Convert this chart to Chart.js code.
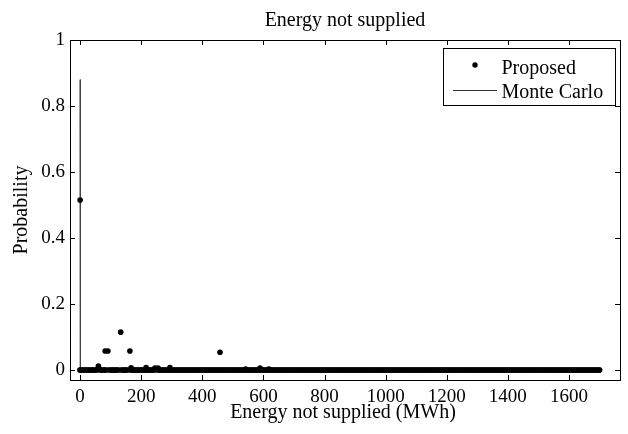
<!DOCTYPE html>
<html>
<head>
<meta charset="utf-8">
<script src="https://cdn.jsdelivr.net/npm/chart.js@4/dist/chart.umd.min.js"></script>
<style>
html,body{margin:0;padding:0;background:#fff;}
#wrap{width:628px;height:434px;}
</style>
</head>
<body>
<div id="wrap"><canvas id="c" width="628" height="434"></canvas></div>
<script>
// ---- data ----
const titleText = "Energy not supplied";
const xTitle = "Energy not supplied (MWh)";
const yTitle = "Probability";
const xTicks = [0, 200, 400, 600, 800, 1000, 1200, 1400, 1600];
const yTicks = [0, 0.2, 0.4, 0.6, 0.8, 1];

// Proposed method: states with non-negligible probability
const proposedX = [0, 60, 82, 91, 133, 163, 167, 216, 245, 255, 294, 458, 542, 589, 618];
const proposedY = [0.515, 0.012, 0.058, 0.058, 0.115, 0.058, 0.007, 0.008, 0.006, 0.006, 0.008, 0.054, 0.003, 0.006, 0.003];

// Proposed method: states with ~zero probability (dense band along y = 0)
const zeroStatesX = [0,10,20,30,40,50,70,80,100,110,120,140,150,170,180,190,200,210,220,230,240,260,270,280,290,300,
310,320,330,340,350,360,370,380,390,400,410,420,430,440,450,460,470,480,490,500,510,520,530,540,550,560,570,580,590,600,
610,620,630,640,650,660,670,680,690,700,710,720,730,740,750,760,770,780,790,800,810,820,830,840,850,860,870,880,890,900,
910,920,930,940,950,960,970,980,990,1000,1010,1020,1030,1040,1050,1060,1070,1080,1090,1100,1110,1120,1130,1140,1150,1160,
1170,1180,1190,1200,1210,1220,1230,1240,1250,1260,1270,1280,1290,1300,1310,1320,1330,1340,1350,1360,1370,1380,1390,1400,
1410,1420,1430,1440,1450,1460,1470,1480,1490,1500,1510,1520,1530,1540,1550,1560,1570,1580,1590,1600,1610,1620,1630,1640,
1650,1660,1670,1680,1690,1700];
const zeroStatesY = zeroStatesX.map(() => 0);

// Monte Carlo result
const monteCarloX = [0, 1, 1700];
const monteCarloY = [0.88, 0, 0];

const FONT = '"Liberation Serif", "Times New Roman", serif';

const proposedPts = proposedX.map((x, i) => ({x, y: proposedY[i]}));
const zeroPts = zeroStatesX.map((x, i) => ({x, y: zeroStatesY[i]}));
const mcPts = monteCarloX.map((x, i) => ({x, y: monteCarloY[i]}));

const framePlugin = {
  id: 'frame',
  afterDraw(chart) {
    const ctx = chart.ctx;
    const a = chart.chartArea;
    const xs = chart.scales.x, ys = chart.scales.y;
    ctx.save();
    ctx.strokeStyle = '#000';
    ctx.lineWidth = 1;
    // inward ticks on all sides
    const tl = 5;
    ctx.beginPath();
    xTicks.forEach(v => {
      const px = Math.round(xs.getPixelForValue(v)) + 0.5;
      ctx.moveTo(px, a.bottom); ctx.lineTo(px, a.bottom - tl);
      ctx.moveTo(px, a.top); ctx.lineTo(px, a.top + tl);
    });
    yTicks.forEach(v => {
      const py = Math.round(ys.getPixelForValue(v)) + 0.5;
      ctx.moveTo(a.left, py); ctx.lineTo(a.left + tl, py);
      ctx.moveTo(a.right, py); ctx.lineTo(a.right - tl, py);
    });
    ctx.stroke();
    // box
    ctx.strokeRect(Math.round(a.left) + 0.5, Math.round(a.top) + 0.5,
      Math.round(a.right - a.left), Math.round(a.bottom - a.top));

    // titles
    ctx.fillStyle = '#000';
    ctx.font = '20px ' + FONT;
    ctx.textAlign = 'center';
    ctx.textBaseline = 'alphabetic';
    const cx = (a.left + a.right) / 2;
    ctx.fillText(titleText, cx, 26);
    ctx.fillText(xTitle, cx - 2, 418);
    ctx.save();
    ctx.translate(27, (a.top + a.bottom) / 2);
    ctx.rotate(-Math.PI / 2);
    ctx.fillText(yTitle, 0, 0);
    ctx.restore();

    // legend
    const lx = 443.5, ly = 48.5, lw = 172, lh = 57;
    ctx.fillStyle = '#fff';
    ctx.fillRect(lx, ly, lw, lh);
    ctx.strokeStyle = '#000';
    ctx.strokeRect(lx, ly, lw, lh);
    ctx.fillStyle = '#000';
    ctx.beginPath();
    ctx.arc(475, 65, 2.7, 0, Math.PI * 2);
    ctx.fill();
    ctx.strokeStyle = '#333';
    ctx.beginPath();
    ctx.moveTo(453, 90.5); ctx.lineTo(497, 90.5);
    ctx.stroke();
    ctx.textAlign = 'left';
    ctx.fillText(chart.data.datasets[0].label, 501.5, 73.5);
    ctx.fillText(chart.data.datasets[2].label, 501.5, 98);
    ctx.restore();
  }
};

new Chart(document.getElementById('c'), {
  type: 'scatter',
  data: {
    datasets: [
      {
        label: 'Proposed',
        data: proposedPts,
        showLine: false,
        pointRadius: 2.8,
        pointHoverRadius: 2.8,
        pointBackgroundColor: '#000',
        pointBorderWidth: 0,
        borderColor: '#000'
      },
      {
        label: 'Proposed (zero-probability states)',
        data: zeroPts,
        showLine: true,
        borderWidth: 5.5,
        borderCapStyle: 'round',
        borderColor: '#000',
        pointRadius: 2.8,
        pointHoverRadius: 2.8,
        pointBackgroundColor: '#000',
        pointBorderWidth: 0,
        tension: 0
      },
      {
        label: 'Monte Carlo',
        data: mcPts,
        showLine: true,
        pointRadius: 0,
        borderColor: '#444',
        borderWidth: 1,
        fill: false,
        tension: 0
      }
    ]
  },
  options: {
    responsive: false,
    animation: false,
    events: [],
    layout: {padding: {top: 40, right: 8, left: 0, bottom: 0}},
    plugins: {legend: {display: false}, title: {display: false}, tooltip: {enabled: false}},
    scales: {
      x: {
        type: 'linear',
        min: -33, max: 1767,
        grid: {display: false, drawTicks: false},
        border: {display: false},
        ticks: {color: '#000', font: {family: FONT, size: 19}, padding: 6, maxRotation: 0, autoSkip: false,
                callback: v => String(v)},
        afterBuildTicks: s => { s.ticks = xTicks.map(v => ({value: v})); },
        afterFit: s => { s.height = 54; }
      },
      y: {
        type: 'linear',
        min: -0.03, max: 1,
        grid: {display: false, drawTicks: false},
        border: {display: false},
        ticks: {color: '#000', font: {family: FONT, size: 19}, padding: 5, autoSkip: false,
                callback: v => String(v)},
        afterBuildTicks: s => { s.ticks = yTicks.map(v => ({value: v})); },
        afterFit: s => { s.width = 70; }
      }
    }
  },
  plugins: [framePlugin]
});
</script>
</body>
</html>
